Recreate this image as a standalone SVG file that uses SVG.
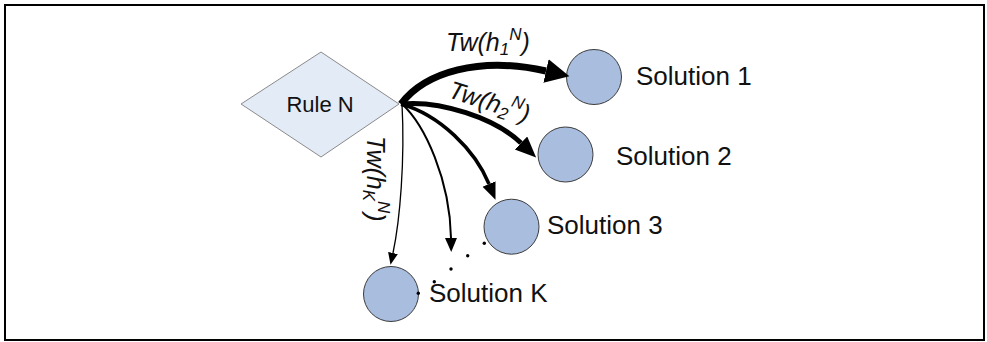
<svg xmlns="http://www.w3.org/2000/svg" width="987" height="342" viewBox="0 0 987 342">
<style>
.sol{fill:#a9bddf;stroke:#3c3c3c;stroke-width:1}
.lbl{font-family:"Liberation Sans",Arial,sans-serif;fill:#111}
.tw{font-family:"Liberation Sans",Arial,sans-serif;font-style:italic;font-size:25px;fill:#111}
.edge{fill:none;stroke:#000}
</style>
<defs>
<marker id="ah1" markerUnits="userSpaceOnUse" markerWidth="26" markerHeight="26" refX="0" refY="12" orient="auto"><path d="M0,0 L24,12 L0,24 Z" fill="#000"/></marker>
<marker id="ah2" markerUnits="userSpaceOnUse" markerWidth="24" markerHeight="20" refX="0" refY="9" orient="auto"><path d="M0,0 L21,9 L0,18 Z" fill="#000"/></marker>
<marker id="ah3" markerUnits="userSpaceOnUse" markerWidth="20" markerHeight="16" refX="0" refY="7" orient="auto"><path d="M0,0 L17,7 L0,14 Z" fill="#000"/></marker>
<marker id="ah4" markerUnits="userSpaceOnUse" markerWidth="16" markerHeight="14" refX="0" refY="6" orient="auto"><path d="M0,0 L14,6 L0,12 Z" fill="#000"/></marker>
<marker id="ah5" markerUnits="userSpaceOnUse" markerWidth="14" markerHeight="12" refX="0" refY="5" orient="auto"><path d="M0,0 L12,5 L0,10 Z" fill="#000"/></marker>
</defs>
<rect x="5" y="5" width="979" height="335" fill="#fff" stroke="#000" stroke-width="2"/>
<g id="rule-n">
<polygon points="241,104 321,52 399,104 321,157" fill="#e3ebf6" stroke="#8a8a8a" stroke-width="1"/>
<text class="lbl" x="320" y="112" font-size="22" text-anchor="middle">Rule N</text>
</g>
<g id="solution-1">
<circle class="sol" cx="594" cy="77" r="27.5"/>
<text class="lbl" x="636" y="85" font-size="26">Solution 1</text>
</g>
<g id="solution-2">
<circle class="sol" cx="565.5" cy="154.5" r="27.5"/>
<text class="lbl" x="616" y="165" font-size="26">Solution 2</text>
</g>
<g id="solution-3">
<circle class="sol" cx="511.5" cy="226.7" r="27.5"/>
<text class="lbl" x="547" y="234" font-size="26">Solution 3</text>
</g>
<g id="solution-k">
<circle class="sol" cx="391" cy="294" r="27.5"/>
<text class="lbl" x="429" y="302" font-size="26">Solution K</text>
</g>
<g id="connectors">
<path class="edge" d="M401,104 C425,72 480,56 546,71" stroke-width="7" marker-end="url(#ah1)"/>
<path class="edge" d="M401,104 C440,100 495,118 521,143" stroke-width="5" marker-end="url(#ah2)"/>
<path class="edge" d="M401,104 C440,115 475,150 489,184" stroke-width="3.5" marker-end="url(#ah3)"/>
<path class="edge" d="M402,104 C425,125 450,180 451,238" stroke-width="2" marker-end="url(#ah4)"/>
<path class="edge" d="M402,104 C405,160 400,220 393,253" stroke-width="1.3" marker-end="url(#ah5)"/>
<text class="tw" x="446" y="51">Tw(h<tspan font-size="17" dy="4">1</tspan><tspan font-size="17" dy="-15">N</tspan><tspan dy="11">)</tspan></text>
<text class="tw" x="447" y="97" transform="rotate(18 447 97)">Tw(h<tspan font-size="17" dy="4">2</tspan><tspan font-size="17" dy="-15">N</tspan><tspan dy="11">)</tspan></text>
<text class="tw" x="367" y="136" transform="rotate(90 367 136)">Tw(h<tspan font-size="17" dy="4">K</tspan><tspan font-size="17" dy="-15">N</tspan><tspan dy="11">)</tspan></text>
<g fill="#000">
<circle cx="484.3" cy="243.3" r="1.7"/>
<circle cx="467.7" cy="255.7" r="1.7"/>
<circle cx="451" cy="269" r="1.7"/>
<circle cx="434.3" cy="281.7" r="1.7"/>
<circle cx="418.3" cy="293.3" r="1.7"/>
</g>
</g>
</svg>
